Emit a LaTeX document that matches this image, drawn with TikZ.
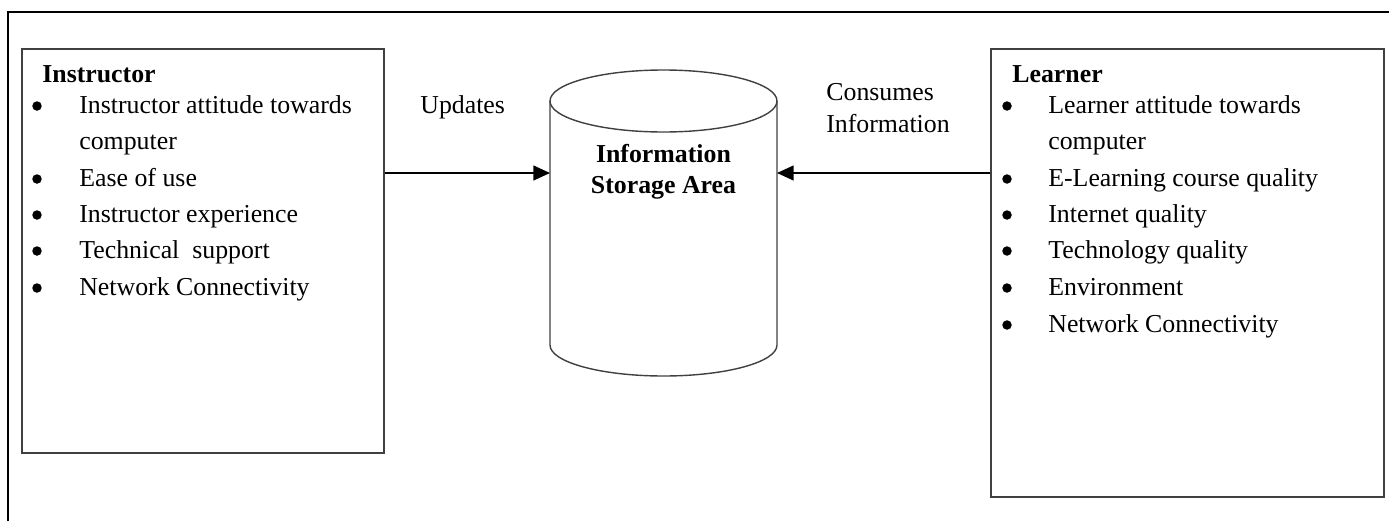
\documentclass[tikz,border=0pt]{standalone}
\usepackage{fontspec}
\setmainfont{Liberation Serif}
\usetikzlibrary{arrows.meta}

\tikzset{
  frameline/.style={line width=1.7pt, black},
  boxline/.style={line width=1pt, black!75},
  flow/.style={line width=0.9pt, black, -{Triangle[length=9.5pt, width=8.5pt]}},
  txt/.style={anchor=base west, inner sep=0pt, font=\fontsize{14.7}{20}\selectfont},
  bul/.style={circle, fill=black, inner sep=0pt, minimum size=0.19cm},
  mid/.style={anchor=base, inner sep=0pt, font=\fontsize{14.7}{20}\selectfont\bfseries}
}

\begin{document}
\begin{tikzpicture}[x=0.02cm, y=-0.02cm]
        \useasboundingbox (0,0) rectangle (1389,521);

        % Outer frame (top and left edges only)
        \draw[frameline] (8,521) -- (8,12) -- (1389,12);

        % Side boxes
        \node at (203,251) (instr) [draw, boxline, minimum width=362*0.02cm, minimum height=404*0.02cm, inner sep=0pt] {};
        \node at (1187.5,273) (learner) [draw, boxline, minimum width=393*0.02cm, minimum height=448*0.02cm, inner sep=0pt] {};

        % Storage cylinder
        \draw[boxline, line width=0.8pt] (663.5,101) ellipse [x radius=113.5, y radius=31];
        \draw[boxline, line width=0.8pt] (550,101) -- (550,345) arc[start angle=180, end angle=0, x radius=113.5, y radius=31] -- (777,101);
        \coordinate (storeW) at (550,173);
        \coordinate (storeE) at (777,173);
        \node at (663.5,162) (store1) [mid] {Information};
        \node at (663.5,193) (store2) [mid] {Storage Area};

        % Instructor list
        \node at (42,82) (ihead) [txt] {\textbf{Instructor}};
        \node at (37,106) (ib1) [bul] {};
        \node at (79,113) (i1) [txt] {Instructor attitude towards};
        \node at (79,149.5) (i1b) [txt] {computer};
        \node at (37,179) (ib2) [bul] {};
        \node at (79,186) (i2) [txt] {Ease of use};
        \node at (37,215) (ib3) [bul] {};
        \node at (79,222) (i3) [txt] {Instructor experience};
        \node at (37,251) (ib4) [bul] {};
        \node at (79,258) (i4) [txt] {Technical\ \ support};
        \node at (37,288) (ib5) [bul] {};
        \node at (79,295) (i5) [txt] {Network Connectivity};

        % Learner list
        \node at (1012,82) (lhead) [txt] {\textbf{Learner}};
        \node at (1007,106) (lb1) [bul] {};
        \node at (1048,113) (l1) [txt] {Learner attitude towards};
        \node at (1048,149.5) (l1b) [txt] {computer};
        \node at (1007,179) (lb2) [bul] {};
        \node at (1048,186) (l2) [txt] {E-Learning course quality};
        \node at (1007,215) (lb3) [bul] {};
        \node at (1048,222) (l3) [txt] {Internet quality};
        \node at (1007,251) (lb4) [bul] {};
        \node at (1048,258) (l4) [txt] {Technology quality};
        \node at (1007,288) (lb5) [bul] {};
        \node at (1048,295) (l5) [txt] {Environment};
        \node at (1007,325) (lb6) [bul] {};
        \node at (1048,332) (l6) [txt] {Network Connectivity};

        % Flow labels
        \node at (420,113) (upd) [txt] {Updates};
        \node at (826,100) (cons1) [txt] {Consumes};
        \node at (826,132) (cons2) [txt] {Information};

        % Flows into the store
        \draw[flow] (instr.east |- storeW) -- (storeW);
        \draw[flow] (learner.west |- storeE) -- (storeE);
\end{tikzpicture}
\end{document}
